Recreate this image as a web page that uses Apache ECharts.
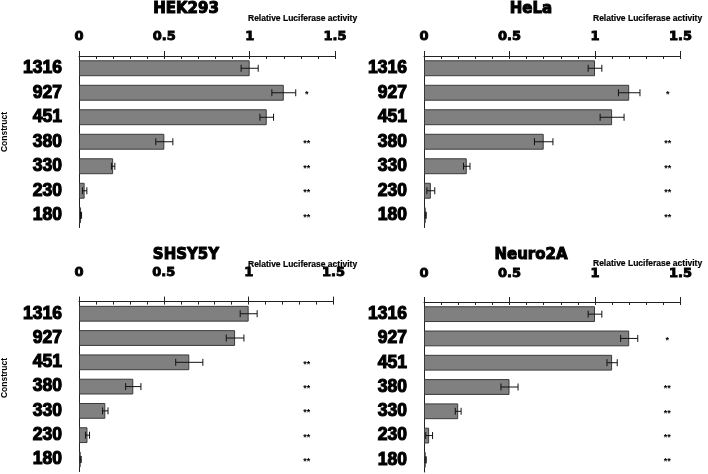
<!DOCTYPE html>
<html>
<head>
<meta charset="utf-8">
<script src="https://cdn.jsdelivr.net/npm/echarts@6/dist/echarts.min.js"></script>
<style>
html,body{margin:0;padding:0;background:#fff;}
#main{width:708px;height:474px;}
</style>
</head>
<body>
<div id="main"></div>
<script>
// constructs (top to bottom)
var categories = ['1316', '927', '451', '380', '330', '230', '180'];
var xTickValues = [0, 0.5, 1, 1.5];

// relative luciferase activity, mean and error
var hekMean = [1.0, 1.2, 1.1, 0.5, 0.2, 0.033, 0.012];
var hekErr = [0.05, 0.07, 0.04, 0.05, 0.01, 0.013, 0.003];
var hekSig = ['', '*', '', '**', '**', '**', '**'];

var helaMean = [1.0, 1.2, 1.1, 0.7, 0.25, 0.04, 0.01];
var helaErr = [0.04, 0.063, 0.07, 0.054, 0.019, 0.023, 0.003];
var helaSig = ['', '*', '', '**', '**', '**', '**'];

var shsyMean = [1.0, 0.92, 0.65, 0.32, 0.155, 0.05, 0.01];
var shsyErr = [0.05, 0.052, 0.08, 0.045, 0.016, 0.012, 0.003];
var shsySig = ['', '', '**', '**', '**', '**', '**'];

var neuroMean = [1.0, 1.2, 1.1, 0.5, 0.2, 0.03, 0.01];
var neuroErr = [0.04, 0.05, 0.03, 0.05, 0.017, 0.02, 0.003];
var neuroSig = ['', '*', '', '**', '**', '**', '**'];

var panels = [
	{name: 'HEK293', mean: hekMean, err: hekErr, sig: hekSig,
	 grid: {left: 79, top: 56, width: 256, height: 171.5}, starX: 1.335, labelMargin: 13,
	 titleX: 186, titleY: 9, nameX: 248, nameY: 19, constructY: 132},
	{name: 'HeLa', mean: helaMean, err: helaErr, sig: helaSig,
	 grid: {left: 424, top: 56, width: 256.5, height: 171.5}, starX: 1.426, labelMargin: 13,
	 titleX: 531, titleY: 9, nameX: 593, nameY: 19},
	{name: 'SHSY5Y', mean: shsyMean, err: shsyErr, sig: shsySig,
	 grid: {left: 79, top: 301.6, width: 254.5, height: 170}, starX: 1.343, labelMargin: 22,
	 titleX: 186, titleY: 255, nameX: 248, nameY: 265, constructY: 378},
	{name: 'Neuro2A', mean: neuroMean, err: neuroErr, sig: neuroSig,
	 grid: {left: 424, top: 302, width: 256.5, height: 170}, starX: 1.422, labelMargin: 22,
	 titleX: 531, titleY: 255, nameX: 593, nameY: 264}
];

var grids = [], xAxes = [], yAxes = [], series = [], graphics = [];

panels.forEach(function(p, k){
	grids.push(p.grid);
	// major axis with labels
	xAxes.push({
		gridIndex: k, type: 'value', position: 'top', min: 0, max: 1.5, interval: 0.5,
		axisLine: {show: true, lineStyle: {color: '#222', width: 1}},
		axisTick: {show: true, length: 5, lineStyle: {color: '#222'}},
		axisLabel: {
			margin: p.labelMargin, color: '#000', fontFamily: 'DejaVu Sans', fontWeight: 'bold', fontSize: 13,
			textBorderColor: '#000', textBorderWidth: 0.9,
			formatter: function(v){ return xTickValues.indexOf(v) >= 0 ? String(v) : ''; }
		},
		splitLine: {show: false}
	});
	// minor ticks (inside)
	xAxes.push({
		gridIndex: k, type: 'value', position: 'top', min: 0, max: 1.5, interval: 0.1,
		axisLine: {show: false},
		axisTick: {show: true, inside: true, length: 3, lineStyle: {color: '#222'}},
		axisLabel: {show: false},
		splitLine: {show: false}
	});
	yAxes.push({
		gridIndex: k, type: 'category', data: categories, inverse: true,
		axisLine: {show: true, lineStyle: {color: '#222', width: 1}},
		axisTick: {show: false},
		axisLabel: {margin: 17, color: '#000', fontFamily: 'Liberation Sans', fontWeight: 'bold', fontSize: 17.5,
			textBorderColor: '#000', textBorderWidth: 1.1}
	});

	series.push({
		type: 'bar', xAxisIndex: k * 2, yAxisIndex: k, data: p.mean, barWidth: '65%',
		itemStyle: {color: '#808080', borderColor: '#3a3a3a', borderWidth: 1},
		silent: true, animation: false
	});

	var errData = p.mean.map(function(m, i){ return [m - p.err[i], m + p.err[i], i]; });
	series.push({
		type: 'custom', xAxisIndex: k * 2, yAxisIndex: k, data: errData,
		encode: {x: [0, 1], y: 2}, animation: false, silent: true, z: 5,
		renderItem: function(params, api){
			var c = api.value(2);
			var lo = api.coord([api.value(0), c]);
			var hi = api.coord([api.value(1), c]);
			var h = 3.5;
			var st = {stroke: '#111', lineWidth: 1};
			return {type: 'group', children: [
				{type: 'line', shape: {x1: lo[0], y1: lo[1], x2: hi[0], y2: hi[1]}, style: st},
				{type: 'line', shape: {x1: lo[0], y1: lo[1] - h, x2: lo[0], y2: lo[1] + h}, style: st},
				{type: 'line', shape: {x1: hi[0], y1: hi[1] - h, x2: hi[0], y2: hi[1] + h}, style: st}
			]};
		}
	});

	var sigData = categories.map(function(c, i){ return [p.starX, i]; });
	series.push({
		type: 'custom', xAxisIndex: k * 2, yAxisIndex: k, data: sigData,
		encode: {x: 0, y: 1}, animation: false, silent: true,
		renderItem: function(params, api){
			var s = p.sig[params.dataIndex];
			if (!s) return null;
			var pt = api.coord([api.value(0), api.value(1)]);
			return {type: 'text', x: pt[0], y: pt[1] + 2, style: {
				text: s, fill: '#000', font: 'bold 9px "Liberation Sans"', textAlign: 'center', textVerticalAlign: 'middle'
			}};
		}
	});

	graphics.push({type: 'text', x: p.titleX, y: p.titleY, style: {
		text: p.name, fill: '#000', font: 'bold 15px "DejaVu Sans"', textAlign: 'center', textVerticalAlign: 'middle',
		stroke: '#000', lineWidth: 1
	}});
	graphics.push({type: 'text', x: p.nameX, y: p.nameY, style: {
		text: 'Relative Luciferase activity', fill: '#000', font: 'bold 8.5px "Liberation Sans"', textAlign: 'left', textVerticalAlign: 'middle',
		stroke: '#000', lineWidth: 0.2
	}});
	if (p.constructY) {
		graphics.push({type: 'text', x: 4.5, y: p.constructY, rotation: Math.PI / 2, style: {
			text: 'Construct', fill: '#000', font: 'bold 8.5px "Liberation Sans"', textAlign: 'center', textVerticalAlign: 'middle'
		}});
	}
});

var myChart = echarts.init(document.getElementById('main'), null, {renderer: 'canvas'});
myChart.setOption({
	backgroundColor: '#fff',
	animation: false,
	grid: grids,
	xAxis: xAxes,
	yAxis: yAxes,
	series: series,
	graphic: graphics
});
</script>
</body>
</html>
